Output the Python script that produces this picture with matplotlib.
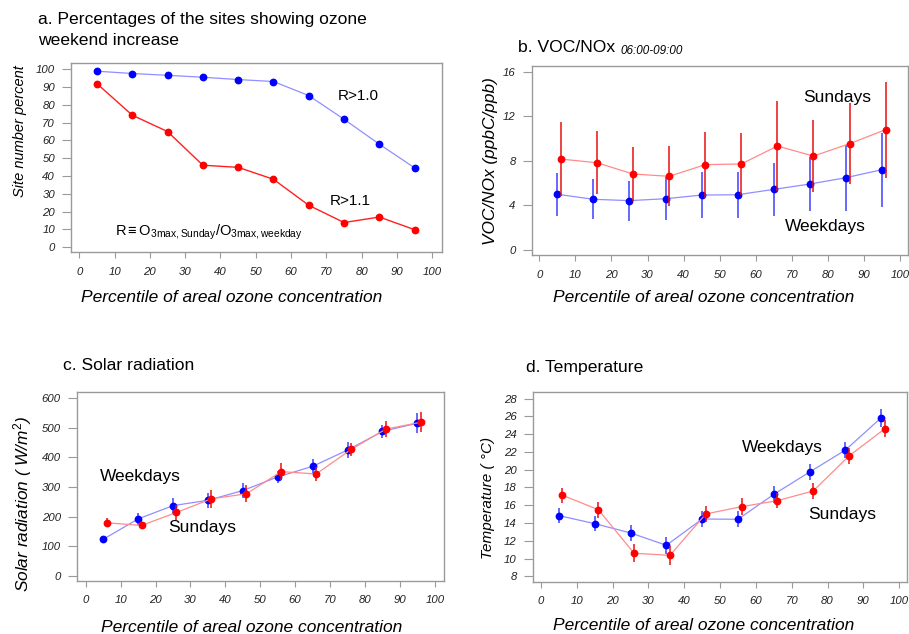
import matplotlib
matplotlib.use("Agg")
import matplotlib.pyplot as plt

plt.rcParams['font.family'] = ['Liberation Sans', 'DejaVu Sans']
plt.rcParams['mathtext.fontset'] = 'custom'
plt.rcParams['mathtext.rm'] = 'Liberation Sans'
plt.rcParams['mathtext.it'] = 'Liberation Sans:italic'
plt.rcParams['mathtext.default'] = 'regular'

# ---- data -------------------------------------------------------------
pct = [5, 15, 25, 35, 45, 55, 65, 75, 85, 95]
pct_sun = [6, 16, 26, 36, 46, 56, 66, 76, 86, 96]

# a. share of sites with weekend ozone increase (%)
site_r10 = [98.9, 97.6, 96.6, 95.5, 94.2, 93.1, 85.2, 71.9, 57.9, 44.6]
site_r11 = [91.9, 74.2, 65.0, 46.1, 44.9, 38.2, 23.6, 13.9, 17.0, 9.9]

# b. VOC/NOx 06:00-09:00 (ppbC/ppb)
voc_wkd = [5.0, 4.55, 4.43, 4.6, 4.93, 4.96, 5.44, 5.92, 6.49, 7.21]
voc_wkd_err = [1.92, 1.8, 1.8, 1.95, 2.08, 2.08, 2.4, 2.45, 2.95, 3.32]
voc_sun = [8.16, 7.83, 6.82, 6.61, 7.66, 7.72, 9.33, 8.43, 9.54, 10.8]
voc_sun_err = [3.35, 2.82, 2.45, 2.68, 2.96, 2.81, 4.04, 3.2, 3.62, 4.3]

# c. solar radiation (W/m2)
sol_wkd = [123, 192, 237, 255, 288, 334, 370, 425, 488, 516]
sol_wkd_err = [5, 20, 27, 25, 24, 20, 24, 26, 23, 35]
sol_sun = [179, 170, 214, 260, 277, 352, 344, 427, 496, 519]
sol_sun_err = [15, 12, 25, 31, 29, 29, 24, 21, 26, 33]

# d. temperature (deg C)
tmp_wkd = [14.83, 13.93, 12.88, 11.49, 14.45, 14.42, 17.23, 19.74, 22.22, 25.86]
tmp_wkd_err = [0.86, 0.88, 0.9, 0.94, 0.95, 0.92, 0.94, 0.94, 0.92, 1.03]
tmp_sun = [17.12, 15.5, 10.59, 10.36, 15.02, 15.84, 16.52, 17.61, 21.55, 24.62]
tmp_sun_err = [0.85, 0.9, 1.0, 1.05, 0.95, 0.95, 0.85, 0.95, 0.9, 0.98]

x_ticks = list(range(0, 101, 10))

# ---- figure -----------------------------------------------------------
W, H = 909, 634
fig = plt.figure(figsize=(W / 100, H / 100), dpi=100)


def fx(x):
    return x / W


def fy(y):
    return 1 - y / H


def add_axes(x0, y0, x1, y1):
    return fig.add_axes([fx(x0), fy(y1), fx(x1) - fx(x0), (y1 - y0) / H])


BLUE = '#0000ff'
RED = '#ff0000'
BLUE_LINE = '#8f8fff'
RED_LINE = '#ff8c8c'
BLUE_BAR = '#5c5cff'
RED_BAR = '#e81010'
SPINE = '#9a9a9a'
TITLE_FS = 12.6


def style(ax, yticks, xlim, ylim):
    ax.set_xlim(*xlim)
    ax.set_ylim(*ylim)
    ax.set_xticks(x_ticks)
    ax.set_yticks(yticks)
    for s in ax.spines.values():
        s.set_color(SPINE)
        s.set_linewidth(1.0)
    ax.tick_params(axis='y', length=6.5, width=0.8, color=SPINE, pad=5,
                   labelsize=8.2, labelcolor='#222222')
    ax.tick_params(axis='x', length=4.5, width=0.8, color=SPINE, pad=6,
                   labelsize=8.2, labelcolor='#222222')
    for lab in ax.get_xticklabels() + ax.get_yticklabels():
        lab.set_fontstyle('italic')


MS = 4.6

# ---- a ----------------------------------------------------------------
axa = add_axes(71, 63, 442, 252)
axa.plot(pct, site_r10, '-', color=BLUE_LINE, lw=0.9, zorder=2)
axa.plot(pct, site_r10, 'o', color=BLUE, ms=MS, zorder=3)
axa.plot(pct, site_r11, '-', color='#ff2020', lw=1.0, zorder=2)
axa.plot(pct, site_r11, 'o', color=RED, ms=MS, zorder=3)
style(axa, list(range(0, 101, 10)), (-2.35, 102.75), (-2.64, 103.5))

fig.text(fx(37.7), fy(24), 'a. Percentages of the sites showing ozone',
         fontsize=TITLE_FS, va='baseline', ha='left')
fig.text(fx(37.7), fy(45), 'weekend increase',
         fontsize=TITLE_FS, va='baseline', ha='left')
fig.text(fx(20), fy(131), 'Site number percent', rotation=90, fontsize=10.5,
         style='italic', ha='center', va='center')
fig.text(fx(232), fy(298), 'Percentile of areal ozone concentration',
         fontsize=12.5, style='italic', ha='center', va='center')
fig.text(fx(358), fy(96), 'R>1.0', fontsize=11, ha='center', va='center')
fig.text(fx(350), fy(201), 'R>1.1', fontsize=11, ha='center', va='center')
fig.text(fx(115), fy(232),
         r'R$\equiv$O$_{3max,Sunday}$/O$_{3max,weekday}$',
         fontsize=10.5, ha='left', va='center')

# ---- b ----------------------------------------------------------------
axb = add_axes(531.7, 65.7, 908, 255)
axb.errorbar(pct, voc_wkd, yerr=voc_wkd_err, fmt='none', ecolor=BLUE_BAR,
             elinewidth=1.3, capsize=0, zorder=2)
axb.plot(pct, voc_wkd, '-', color=BLUE_LINE, lw=0.9, zorder=2)
axb.plot(pct, voc_wkd, 'o', color=BLUE, ms=MS, zorder=3)
axb.errorbar(pct_sun, voc_sun, yerr=voc_sun_err, fmt='none', ecolor=RED_BAR,
             elinewidth=1.1, capsize=0, zorder=4)
axb.plot(pct_sun, voc_sun, '-', color=RED_LINE, lw=0.9, zorder=4)
axb.plot(pct_sun, voc_sun, 'o', color=RED, ms=MS, zorder=5)
style(axb, [0, 4, 8, 12, 16], (-2.1, 102.2), (-0.45, 16.54))

fig.text(fx(518.3), fy(51.7), 'b. VOC/NOx', fontsize=TITLE_FS,
         va='baseline', ha='left')
fig.text(fx(620.7), fy(54.3), '06:00-09:00', fontsize=8.4, style='italic',
         va='baseline', ha='left')
fig.text(fx(490), fy(161.5), 'VOC/NOx (ppbC/ppb)', rotation=90,
         fontsize=12.4, style='italic', ha='center', va='center')
fig.text(fx(704), fy(298), 'Percentile of areal ozone concentration',
         fontsize=12.5, style='italic', ha='center', va='center')
fig.text(fx(836.7), fy(97.3), 'Sundays', fontsize=12.5,
         ha='center', va='center', zorder=1)
fig.text(fx(825.7), fy(226), 'Weekdays', fontsize=12.5,
         ha='center', va='center')

# ---- c ----------------------------------------------------------------
axc = add_axes(76.7, 392.3, 444.3, 580.7)
axc.errorbar(pct, sol_wkd, yerr=sol_wkd_err, fmt='none', ecolor=BLUE_BAR,
             elinewidth=1.3, capsize=0, zorder=2)
axc.plot(pct, sol_wkd, '-', color=BLUE_LINE, lw=0.9, zorder=2)
axc.plot(pct, sol_wkd, 'o', color=BLUE, ms=MS, zorder=3)
axc.errorbar(pct_sun, sol_sun, yerr=sol_sun_err, fmt='none', ecolor=RED_BAR,
             elinewidth=1.1, capsize=0, zorder=4)
axc.plot(pct_sun, sol_sun, '-', color=RED_LINE, lw=0.9, zorder=4)
axc.plot(pct_sun, sol_sun, 'o', color=RED, ms=MS, zorder=5)
style(axc, list(range(0, 601, 100)), (-2.58, 102.7), (-16.9, 620.3))

fig.text(fx(63.3), fy(370), 'c. Solar radiation', fontsize=TITLE_FS,
         va='baseline', ha='left')
fig.text(fx(23), fy(503.5), r'Solar radiation ( W/m$^{\mathit{2}}$)',
         rotation=90, fontsize=12.4, style='italic', ha='center', va='center')
fig.text(fx(252), fy(627), 'Percentile of areal ozone concentration',
         fontsize=12.5, style='italic', ha='center', va='center')
fig.text(fx(140), fy(476), 'Weekdays', fontsize=12.5,
         ha='center', va='center')
fig.text(fx(201.7), fy(527.3), 'Sundays', fontsize=12.5,
         ha='center', va='center')

# ---- d ----------------------------------------------------------------
axd = add_axes(532.7, 392.3, 906.7, 581.7)
axd.errorbar(pct, tmp_wkd, yerr=tmp_wkd_err, fmt='none', ecolor=BLUE_BAR,
             elinewidth=1.3, capsize=0, zorder=2)
axd.plot(pct, tmp_wkd, '-', color=BLUE_LINE, lw=0.9, zorder=2)
axd.plot(pct, tmp_wkd, 'o', color=BLUE, ms=MS, zorder=3)
axd.errorbar(pct_sun, tmp_sun, yerr=tmp_sun_err, fmt='none', ecolor=RED_BAR,
             elinewidth=1.1, capsize=0, zorder=4)
axd.plot(pct_sun, tmp_sun, '-', color=RED_LINE, lw=0.9, zorder=4)
axd.plot(pct_sun, tmp_sun, 'o', color=RED, ms=MS, zorder=5)
style(axd, list(range(8, 29, 2)), (-2.32, 102.1), (7.39, 28.72))

fig.text(fx(526), fy(371.7), 'd. Temperature', fontsize=TITLE_FS,
         va='baseline', ha='left')
fig.text(fx(488), fy(497.5), 'Temperature ( °C)', rotation=90,
         fontsize=11, style='italic', ha='center', va='center')
fig.text(fx(704), fy(626), 'Percentile of areal ozone concentration',
         fontsize=12.5, style='italic', ha='center', va='center')
fig.text(fx(782.3), fy(447.7), 'Weekdays', fontsize=12.5,
         ha='center', va='center')
fig.text(fx(842.3), fy(514), 'Sundays', fontsize=12.5,
         ha='center', va='center')

fig.savefig('out.png', dpi=100)
